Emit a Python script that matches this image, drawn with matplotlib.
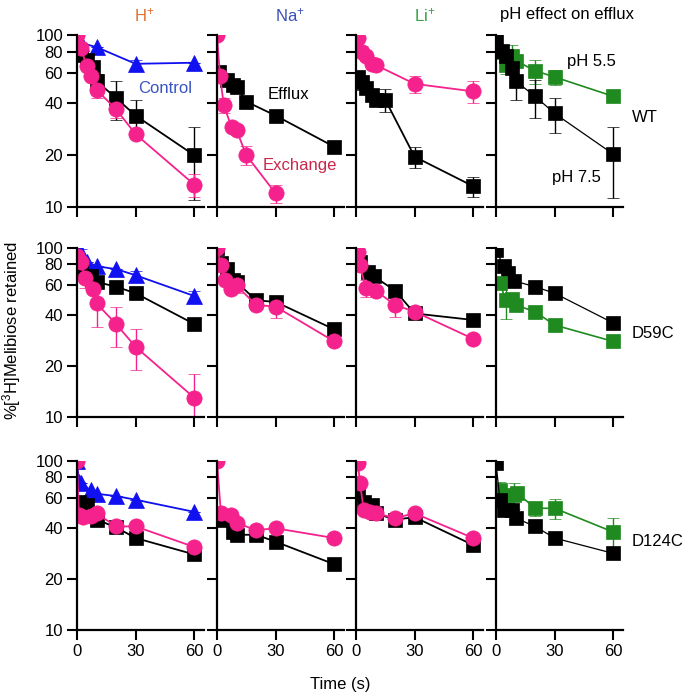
import matplotlib
matplotlib.use("Agg")
import matplotlib.pyplot as plt

plt.rcParams['font.family'] = ['Liberation Sans', 'DejaVu Sans']
plt.rcParams['mathtext.fontset'] = 'custom'
plt.rcParams['mathtext.rm'] = 'Liberation Sans'
plt.rcParams['mathtext.default'] = 'regular'
plt.rcParams['font.size'] = 12

# ---------------- data (time in s, % retained) ----------------
# WT
wt_h_ctrl_t = [0, 2, 10, 30, 60]
wt_h_ctrl = [100, 90, 85, 68, 69]
wt_h_ctrl_err = [0, 0, 0, 4, 0]
wt_h_eff_t = [0, 2, 5, 8, 10, 20, 30, 60]
wt_h_eff = [80, 77, 72, 65, 54, 43, 34, 20]
wt_h_eff_err = [0, 0, 0, 0, 5, 11, 8, 9]
wt_h_exc_t = [0, 2, 5, 7, 10, 20, 30, 60]
wt_h_exc = [100, 84, 66, 58, 48, 37, 26.5, 13.5]
wt_h_exc_err = [0, 0, 0, 0, 5, 4, 0, 2]

wt_na_eff_t = [1, 5, 8, 10, 15, 30, 60]
wt_na_eff = [61, 55, 51, 50, 41, 34, 22.4]
wt_na_eff_err = [5, 4, 3, 0, 0, 0, 0]
wt_na_exc_t = [0, 1.5, 3.5, 7.5, 10, 15, 30]
wt_na_exc = [100, 58, 39, 29, 28, 20, 12]
wt_na_exc_err = [0, 3, 4, 0, 0, 2.5, 1.5]

wt_li_eff_t = [1, 3, 5, 8, 10, 15, 30, 60]
wt_li_eff = [57, 53, 49, 45, 42, 42, 19.6, 13.2]
wt_li_eff_err = [0, 5, 0, 0, 0, 6.5, 2.8, 1.8]
wt_li_exc_t = [0, 1, 3, 5, 8, 10, 30, 60]
wt_li_exc = [100, 96, 80, 76, 68, 67, 52, 47]
wt_li_exc_err = [0, 0, 6, 0, 0, 0, 6, 7]

wt_ph75_t = [0, 3, 5, 8, 10, 20, 30, 60]
wt_ph75 = [96, 81, 76, 64, 54, 44, 35, 20.3]
wt_ph75_err = [0, 0, 0, 0, 12, 11, 8, 9]
wt_ph55_t = [2, 5, 8, 10, 20, 30, 60]
wt_ph55 = [80, 67, 75, 71, 62, 57, 44]
wt_ph55_err = [0, 8, 12, 0, 10, 6, 0]

# D59C
d59_h_ctrl_t = [0, 2, 5, 10, 20, 30, 60]
d59_h_ctrl = [100, 93, 83, 78, 75, 69, 52]
d59_h_ctrl_err = [0, 6, 0, 0, 0, 4, 3.5]
d59_h_eff_t = [0, 2, 7, 10, 20, 30, 60]
d59_h_eff = [78, 73, 68, 63, 59, 54, 35.5]
d59_h_eff_err = [0, 0, 0, 0, 0, 3, 2.5]
d59_h_exc_t = [0, 2, 4, 8, 10, 20, 30, 60]
d59_h_exc = [90, 83, 66, 57, 47, 35.5, 26, 13]
d59_h_exc_err = [0, 0, 8, 0, 13, 9.5, 7, 5]

d59_na_eff_t = [0, 2, 5, 8, 10, 20, 30, 60]
d59_na_eff = [100, 81, 75, 65, 63, 49, 48, 33]
d59_na_eff_err = [0, 0, 0, 0, 0, 0, 0, 0]
d59_na_exc_t = [0, 2, 4, 7, 10, 20, 30, 60]
d59_na_exc = [100, 79, 65, 57, 60, 46, 45, 28]
d59_na_exc_err = [0, 0, 0, 0, 6, 0, 6.5, 0]

d59_li_eff_t = [0, 2, 6, 9, 20, 30, 60]
d59_li_eff = [95, 83, 72, 68, 56, 41, 37.5]
d59_li_eff_err = [0, 0, 0, 0, 0, 2, 0]
d59_li_exc_t = [0, 1, 2, 5, 10, 20, 30, 60]
d59_li_exc = [100, 95, 79, 58, 56, 46, 42, 29]
d59_li_exc_err = [0, 0, 0, 7, 0, 7, 0, 0]

d59_ph75_t = [0, 4, 6, 9, 20, 30, 60]
d59_ph75 = [97, 78, 71, 64, 59, 54, 36]
d59_ph75_err = [0, 0, 0, 0, 0, 3, 3]
d59_ph55_t = [2, 5, 8, 10, 20, 30, 60]
d59_ph55 = [62, 49, 50, 46, 42, 35, 28]
d59_ph55_err = [0, 11, 0, 0, 0, 0, 0]

# D124C
d124_h_ctrl_t = [0, 1, 2, 7, 10, 20, 30, 60]
d124_h_ctrl = [100, 75, 74, 67, 64, 62, 59, 50]
d124_h_ctrl_err = [0, 0, 0, 0, 0, 0, 0, 0]
d124_h_eff_t = [1, 5, 10, 20, 30, 60]
d124_h_eff = [57, 55, 45, 40.5, 35, 28]
d124_h_eff_err = [0, 0, 0, 0, 0, 0]
d124_h_exc_t = [0, 1, 3, 7, 10, 20, 30, 60]
d124_h_exc = [100, 48, 46.5, 47, 49, 41, 41, 31]
d124_h_exc_err = [0, 0, 0, 0, 0, 0, 0, 0]

d124_na_eff_t = [1, 3, 8, 10, 20, 30, 60]
d124_na_eff = [47, 45, 38, 36.6, 36.6, 33.3, 24.5]
d124_na_eff_err = [0, 0, 0, 0, 0, 0, 0]
d124_na_exc_t = [0, 2, 7, 10, 20, 30, 60]
d124_na_exc = [100, 49, 48, 43, 39, 40, 35]
d124_na_exc_err = [0, 0, 0, 0, 0, 0, 0]

d124_li_eff_t = [1, 4, 8, 10, 20, 30, 60]
d124_li_eff = [64, 57, 55, 49, 45, 46.5, 31.8]
d124_li_eff_err = [0, 0, 0, 0, 0, 0, 0]
d124_li_exc_t = [0, 1, 2, 4, 7, 10, 20, 30, 60]
d124_li_exc = [100, 97, 74.5, 51, 50, 49, 46, 49, 35]
d124_li_exc_err = [0, 0, 0, 0, 0, 0, 0, 0, 0]

d124_ph75_t = [0, 2, 4, 8, 10, 20, 30, 60]
d124_ph75 = [97, 59, 51, 51, 46, 41, 35, 28.4]
d124_ph75_err = [0, 0, 0, 0, 0, 0, 0, 0]
d124_ph55_t = [2, 5, 9, 11, 20, 30, 60]
d124_ph55 = [67, 60, 63, 64.5, 52.5, 52.5, 38]
d124_ph55_err = [8, 0, 11, 0, 5, 7, 8]

col_titles = ['H$^{+}$', 'Na$^{+}$', 'Li$^{+}$', 'pH effect on efflux']
row_labels = ['WT', 'D59C', 'D124C']
y_ticks = [10, 20, 40, 60, 80, 100]
x_ticks = [0, 30, 60]

# ---------------- styles ----------------
pink = '#f5218c'
blue = '#1010f0'
green = '#1f8a1f'
styles = {
    'ctrl': dict(color=blue, marker='^', ms=11, lw=1.3),
    'eff':  dict(color='black', marker='s', ms=10, lw=1.3),
    'exc':  dict(color=pink, marker='o', ms=11, lw=1.3),
    'ph75': dict(color='black', marker='s', ms=10, lw=0.9),
    'ph55': dict(color=green, marker='s', ms=9.5, lw=1.2),
}

panels = [
    [[('ctrl', wt_h_ctrl_t, wt_h_ctrl, wt_h_ctrl_err),
      ('eff', wt_h_eff_t, wt_h_eff, wt_h_eff_err),
      ('exc', wt_h_exc_t, wt_h_exc, wt_h_exc_err)],
     [('eff', wt_na_eff_t, wt_na_eff, wt_na_eff_err),
      ('exc', wt_na_exc_t, wt_na_exc, wt_na_exc_err)],
     [('eff', wt_li_eff_t, wt_li_eff, wt_li_eff_err),
      ('exc', wt_li_exc_t, wt_li_exc, wt_li_exc_err)],
     [('ph55', wt_ph55_t, wt_ph55, wt_ph55_err),
      ('ph75', wt_ph75_t, wt_ph75, wt_ph75_err)]],
    [[('ctrl', d59_h_ctrl_t, d59_h_ctrl, d59_h_ctrl_err),
      ('eff', d59_h_eff_t, d59_h_eff, d59_h_eff_err),
      ('exc', d59_h_exc_t, d59_h_exc, d59_h_exc_err)],
     [('eff', d59_na_eff_t, d59_na_eff, d59_na_eff_err),
      ('exc', d59_na_exc_t, d59_na_exc, d59_na_exc_err)],
     [('eff', d59_li_eff_t, d59_li_eff, d59_li_eff_err),
      ('exc', d59_li_exc_t, d59_li_exc, d59_li_exc_err)],
     [('ph75', d59_ph75_t, d59_ph75, d59_ph75_err),
      ('ph55', d59_ph55_t, d59_ph55, d59_ph55_err)]],
    [[('ctrl', d124_h_ctrl_t, d124_h_ctrl, d124_h_ctrl_err),
      ('eff', d124_h_eff_t, d124_h_eff, d124_h_eff_err),
      ('exc', d124_h_exc_t, d124_h_exc, d124_h_exc_err)],
     [('eff', d124_na_eff_t, d124_na_eff, d124_na_eff_err),
      ('exc', d124_na_exc_t, d124_na_exc, d124_na_exc_err)],
     [('eff', d124_li_eff_t, d124_li_eff, d124_li_eff_err),
      ('exc', d124_li_exc_t, d124_li_exc, d124_li_exc_err)],
     [('ph55', d124_ph55_t, d124_ph55, d124_ph55_err),
      ('ph75', d124_ph75_t, d124_ph75, d124_ph75_err)]],
]

fig = plt.figure(figsize=(6.85, 6.94), dpi=100)
W, H = 685.0, 694.0
col_left = [77, 217, 356, 496]
col_w = 127
row_top = [35, 248, 461]
row_h = [172, 169, 169]

axs = []
for r in range(3):
    row_axs = []
    for c in range(4):
        ax = fig.add_axes([col_left[c] / W, 1 - (row_top[r] + row_h[r]) / H,
                           col_w / W, row_h[r] / H])
        ax.set_yscale('log')
        ax.set_ylim(10, 100)
        ax.set_xlim(0, 65)
        for spine in ['top', 'right']:
            ax.spines[spine].set_visible(False)
        for spine in ['left', 'bottom']:
            ax.spines[spine].set_linewidth(1.6)
        ax.set_yticks(y_ticks)
        ax.yaxis.set_minor_locator(matplotlib.ticker.NullLocator())
        ax.set_xticks(x_ticks)
        ax.tick_params(direction='out', length=7, width=1.5, pad=3, labelsize=12)
        if c == 0:
            ax.set_yticklabels([str(v) for v in y_ticks])
        else:
            ax.set_yticklabels([])
        if r < 2:
            ax.set_xticklabels([])
        for kind, t, y, e in panels[r][c]:
            st = styles[kind]
            ax.errorbar(t, y, yerr=e, color=st['color'], marker=st['marker'],
                        markersize=st['ms'], lw=st['lw'], elinewidth=1.0,
                        capsize=4, capthick=1.0, mec=st['color'], mew=0.5)
        row_axs.append(ax)
    axs.append(row_axs)

# column titles
title_colors = ['#e07030', '#3a4fb5', '#35a045', 'black']
title_x = [144, 290, 425, 567]
for c in range(4):
    fig.text(title_x[c] / W, 1 - 15 / H, col_titles[c], ha='center', va='center',
             color=title_colors[c], fontsize=12)

# row labels
row_label_y = [117, 334, 542]
for r in range(3):
    fig.text(632 / W, 1 - row_label_y[r] / H, row_labels[r], ha='left', va='center', fontsize=12)

# annotations
axs[0][0].text(45, 49, 'Control', color='#3a55c0', ha='center', va='center', fontsize=12)
axs[0][1].text(36.5, 45, 'Efflux', color='black', ha='center', va='center', fontsize=12)
axs[0][1].text(42.5, 17.5, 'Exchange', color='#c8284c', ha='center', va='center', fontsize=12)
axs[0][3].text(49, 70, 'pH 5.5', color='black', ha='center', va='center', fontsize=12)
axs[0][3].text(41, 14.9, 'pH 7.5', color='black', ha='center', va='center', fontsize=12)

fig.text(12 / W, 1 - 330 / H, '%[$^{3}$H]Melibiose retained', rotation=90,
         ha='center', va='center', fontsize=12)
fig.text(340 / W, 1 - 684 / H, 'Time (s)', ha='center', va='center', fontsize=12)

fig.savefig('out.png', dpi=100)
